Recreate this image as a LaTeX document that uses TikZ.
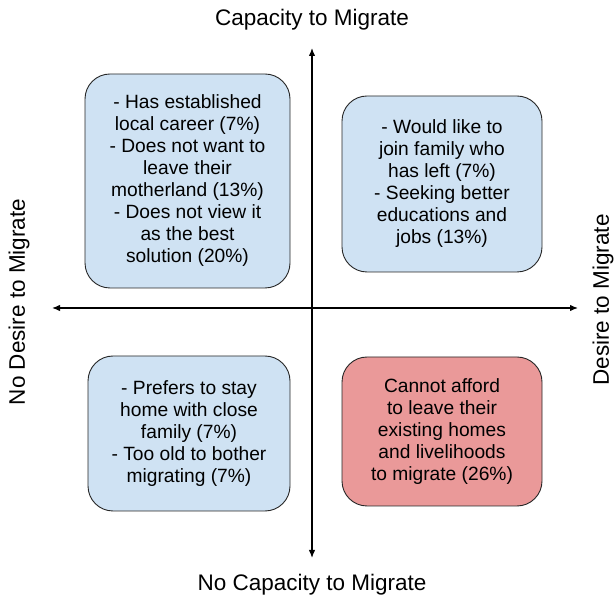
\documentclass[tikz,border=0pt]{standalone}
\usepackage{fontspec}
\setmainfont{Liberation Sans}
\usepackage{tikz}
\usetikzlibrary{arrows.meta}
\definecolor{boxblue}{HTML}{CFE2F3}
\definecolor{boxred}{HTML}{EA9999}
\tikzset{>={Latex[length=8pt,width=6.5pt]}}
\tikzstyle{reason}=[draw=black!85, line width=0.9pt, rounded corners=25pt, align=center,
  inner sep=0pt, font=\fontsize{19.2}{22}\selectfont]
\tikzstyle{axislabel}=[font=\fontsize{22.5}{26}\selectfont, inner sep=0pt]
\newcommand{\reason}{\node[reason]}

\begin{document}
\begin{tikzpicture}[x=1pt, y=1pt]
\useasboundingbox (0,0) rectangle (616,600);
% the two axes
\coordinate (top) at (312,552);
\coordinate (bot) at (312,42);
\coordinate (lft) at (52,292);
\coordinate (rgt) at (578,292);
\draw [<->, line width=1.3pt] (bot) -- (top);
\draw [<->, line width=1.3pt] (lft) -- (rgt);
% axis labels
\node[axislabel] (cap) at (312,580) {Capacity to Migrate};
\node[axislabel] (nocap) at (312,15) {No Capacity to Migrate};
\node[axislabel, rotate=90] (nodes) at (19,298) {No Desire to Migrate};
\node[axislabel, rotate=90] (des) at (603,300) {Desire to Migrate};
% the four quadrants
\reason[fill=boxblue, minimum width=205pt, minimum height=214pt] (stay) at (187.5,419)
  {- Has established\\ local career (7\%)\\ - Does not want to\\ leave their\\
   motherland (13\%)\\ - Does not view it\\ as the best\\ solution (20\%)};
\reason[fill=boxblue, minimum width=200pt, minimum height=176pt] (go) at (442,416)
  {- Would like to\\ join family who\\ has left (7\%)\\ - Seeking better\\
   educations and\\ jobs (13\%)};
\reason[fill=boxblue, minimum width=202pt, minimum height=155pt] (home) at (189,166.5)
  {- Prefers to stay\\ home with close\\ family (7\%)\\ - Too old to bother\\
   migrating (7\%)};
\reason[fill=boxred, minimum width=200pt, minimum height=149pt] (stuck) at (442,168.5)
  {Cannot afford\\ to leave their\\ existing homes\\ and livelihoods\\ to migrate (26\%)};
\end{tikzpicture}
\end{document}
